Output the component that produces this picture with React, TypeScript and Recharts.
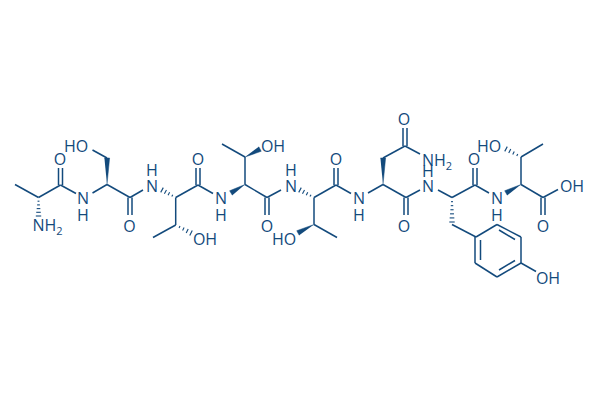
import React from "react";
import { ScatterChart, Scatter, XAxis, YAxis } from "recharts";

type P = [number, number];
type Seg = [number, number, number, number];

const INK = "#134a7c";
const FONT = "'Open Sans', 'Noto Sans', sans-serif";

const plainBonds: Seg[] = [
  [15, 184.5, 38.5, 197.5],
  [38.5, 197.5, 60.5, 185],
  [60.5, 185, 76, 193.5],
  [92.5, 193, 107, 184.5],
  [107, 184.5, 130, 197.5],
  [107, 158, 92.5, 150],
  [130, 197.5, 143, 190],
  [175.7, 197.5, 198, 185],
  [175.7, 197.5, 175.7, 225],
  [175.7, 225, 153, 237.5],
  [198, 185, 213, 193.5],
  [245, 184.5, 267, 197.5],
  [245, 184.5, 245, 157],
  [245, 157, 222, 144],
  [267, 197.5, 281, 190],
  [314, 197.5, 336, 185],
  [314, 197.5, 314, 224.5],
  [314, 224.5, 337, 237.5],
  [336, 185, 351, 193.5],
  [368, 193, 383, 184.5],
  [383, 184.5, 406, 197.5],
  [383, 158, 405, 146],
  [405, 146, 420, 154],
  [406, 197.5, 420, 190],
  [438, 190, 452, 197.5],
  [452, 197.5, 475, 185],
  [452, 224.5, 476, 237],
  [476, 237, 497, 224.5],
  [497, 224.5, 521, 237],
  [521, 237, 521, 263],
  [521, 263, 497, 277],
  [497, 277, 475, 263],
  [475, 263, 475, 237],
  [521, 263, 536, 271.5],
  [475, 185, 489, 193],
  [521, 184.5, 543, 197.5],
  [521, 184.5, 521, 157],
  [521, 157, 543, 144],
  [543, 197.5, 558, 189.5],
];

const doubleBonds: Seg[] = [
  [58.5, 185, 58.5, 168], [62.5, 185, 62.5, 168],
  [128, 197.5, 128, 215], [132, 197.5, 132, 215],
  [196, 185, 196, 168], [200, 185, 200, 168],
  [265, 197.5, 265, 215], [269, 197.5, 269, 215],
  [334, 185, 334, 168], [338, 185, 338, 168],
  [403, 146, 403, 128], [407, 146, 407, 128],
  [404, 197.5, 404, 215], [408, 197.5, 408, 215],
  [473, 185, 473, 168], [477, 185, 477, 168],
  [541, 197.5, 541, 215], [545, 197.5, 545, 215],
  [499, 230, 515, 239.5],
  [515, 260.5, 499, 270],
  [480.5, 260, 480.5, 240],
];

const wedges: Seg[] = [
  [107, 184.5, 107, 158],
  [245, 184.5, 231, 193],
  [245, 157, 260, 149],
  [383, 184.5, 383, 158],
  [314, 224.5, 298, 233],
  [521, 184.5, 506, 193],
];

const hashes: Seg[] = [
  [38.5, 197.5, 38.5, 216],
  [175.7, 197.5, 162, 190],
  [175.7, 225, 191, 233],
  [314, 197.5, 300, 190],
  [452, 197.5, 452, 222],
  [521, 157, 506, 149],
];

const atomLabels: { x: number; y: number; text: string }[] = [
  { x: 60, y: 158.5, text: "O" },
  { x: 76, y: 145.5, text: "HO" },
  { x: 83, y: 198, text: "N" },
  { x: 83, y: 214.5, text: "H" },
  { x: 47.5, y: 225, text: "NH2" },
  { x: 129.5, y: 225.5, text: "O" },
  { x: 152, y: 185.5, text: "N" },
  { x: 152, y: 169.5, text: "H" },
  { x: 198, y: 158.5, text: "O" },
  { x: 205, y: 238.5, text: "OH" },
  { x: 221, y: 198, text: "N" },
  { x: 221, y: 214.5, text: "H" },
  { x: 273, y: 145.5, text: "OH" },
  { x: 267, y: 225.5, text: "O" },
  { x: 291, y: 185.5, text: "N" },
  { x: 291, y: 169.5, text: "H" },
  { x: 284, y: 238.5, text: "HO" },
  { x: 336, y: 158.5, text: "O" },
  { x: 359, y: 198, text: "N" },
  { x: 359, y: 214.5, text: "H" },
  { x: 404, y: 118.5, text: "O" },
  { x: 437, y: 159.5, text: "NH2" },
  { x: 428, y: 170.5, text: "H" },
  { x: 428, y: 185.5, text: "N" },
  { x: 404, y: 225.5, text: "O" },
  { x: 474, y: 158.5, text: "O" },
  { x: 497, y: 198, text: "N" },
  { x: 497, y: 214.5, text: "H" },
  { x: 489, y: 145.5, text: "HO" },
  { x: 543, y: 225.5, text: "O" },
  { x: 572, y: 185.5, text: "OH" },
  { x: 548, y: 277.5, text: "OH" },
];

const pts = (a: P[]) => a.map(([x, y]) => ({ x, y }));
const Nothing = () => null;

const wedgeTriangle = ([x1, y1, x2, y2]: Seg): P[] => {
  const dx = x2 - x1;
  const dy = y2 - y1;
  const l = Math.hypot(dx, dy);
  const nx = (-dy / l) * 2.6;
  const ny = (dx / l) * 2.6;
  return [[x1, y1], [x2 + nx, y2 + ny], [x2 - nx, y2 - ny]];
};

const hashRungs = ([x1, y1, x2, y2]: Seg): Seg[] => {
  const dx = x2 - x1;
  const dy = y2 - y1;
  const l = Math.hypot(dx, dy);
  const n = Math.round(l / 4);
  const out: Seg[] = [];
  for (let i = 1; i <= n; i++) {
    const t = i / n;
    const w = 0.5 + 2.2 * t;
    const nx = (-dy / l) * w;
    const ny = (dx / l) * w;
    const cx = x1 + dx * t;
    const cy = y1 + dy * t;
    out.push([cx + nx, cy + ny, cx - nx, cy - ny]);
  }
  return out;
};

const AtomText = (props: any) => {
  const { cx, cy, payload } = props;
  const t: string = payload.text;
  const main = t.endsWith("2") ? t.slice(0, -1) : t;
  return (
    <text x={cx} y={cy} textAnchor="middle" dominantBaseline="central" fontFamily={FONT} fontSize={16} fill={INK}>
      {main}
      {t.endsWith("2") ? <tspan fontSize={11} dy={5}>2</tspan> : null}
    </text>
  );
};

const segment = (s: Seg, key: string, width: number) => (
  <Scatter
    key={key}
    data={pts([[s[0], s[1]], [s[2], s[3]]])}
    dataKey="y"
    shape={Nothing}
    line={{ stroke: INK, strokeWidth: width, fill: "none" }}
    isAnimationActive={false}
  />
);

export default function App() {
  return (
    <div style={{ position: "absolute", left: 0, top: 0, width: 600, height: 400, background: "#fff" }}>
      <ScatterChart width={600} height={400} margin={{ top: 0, right: 0, bottom: 0, left: 0 }}>
        <XAxis type="number" dataKey="x" domain={[0, 600]} hide />
        <YAxis type="number" dataKey="y" domain={[0, 400]} reversed hide />
        {plainBonds.map((s, i) => segment(s, `b${i}`, 1.5))}
        {doubleBonds.map((s, i) => segment(s, `d${i}`, 1.5))}
        {hashes.flatMap((s, i) => hashRungs(s).map((r, j) => segment(r, `h${i}-${j}`, 1.1)))}
        {wedges.map((s, i) => (
          <Scatter
            key={`w${i}`}
            data={pts(wedgeTriangle(s))}
            dataKey="y"
            shape={Nothing}
            line={{ stroke: INK, strokeWidth: 0.5, fill: INK }}
            isAnimationActive={false}
          />
        ))}
        <Scatter data={atomLabels} dataKey="y" shape={AtomText} isAnimationActive={false} />
      </ScatterChart>
    </div>
  );
}
